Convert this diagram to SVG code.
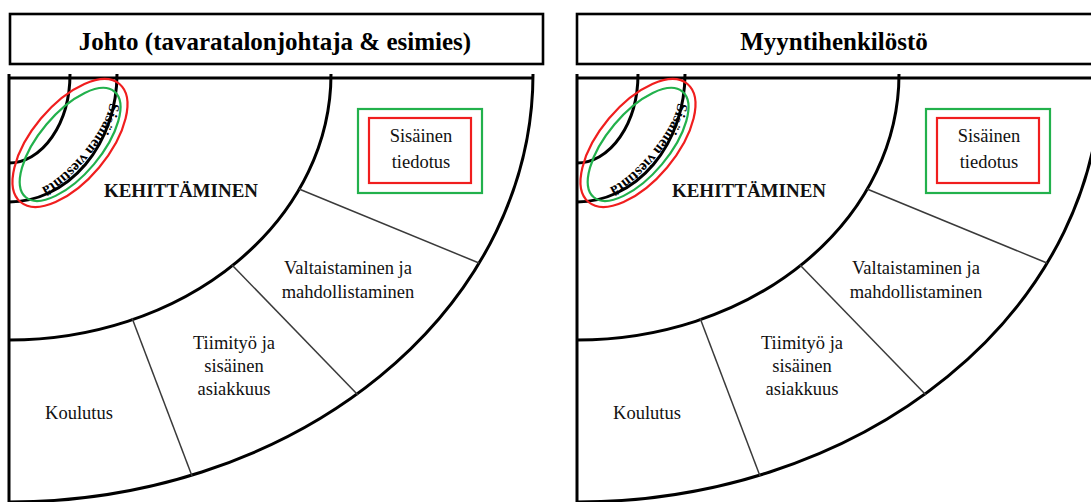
<svg xmlns="http://www.w3.org/2000/svg" xmlns:xlink="http://www.w3.org/1999/xlink" width="1091" height="502" viewBox="0 0 1091 502">
  <style>
    .box { fill: #fff; stroke: #000; stroke-width: 2.6; }
    .frame { fill: none; stroke: #000; stroke-width: 3; }
    .div { stroke: #3a3a3a; stroke-width: 1.5; fill: none; }
    .title { font-family: "Liberation Serif", "Times New Roman", serif; font-weight: bold; font-size: 25px; text-anchor: middle; fill: #000; }
    .head { font-family: "Liberation Serif", "Times New Roman", serif; font-weight: bold; font-size: 19px; text-anchor: middle; fill: #111; }
    .lbl { font-family: "Liberation Serif", "Times New Roman", serif; font-size: 18.5px; text-anchor: middle; fill: #111; }
    .ring { font-family: "Liberation Serif", "Times New Roman", serif; font-weight: bold; font-size: 15px; fill: #000; }
    .red { fill: none; stroke: #f01e1e; stroke-width: 2.2; }
    .green { fill: none; stroke: #22b14c; stroke-width: 2.2; }
  </style>
  <defs>
    <!-- baseline for the curved label, lower-right half of the tilted ellipse -->
    <path id="ringPath" d="M 58,0 A 58 16 0 0 1 -58,0"/>
  </defs>
  <rect width="1091" height="502" fill="#fff"/>

  <!-- ===== Left panel: Johto ===== -->
  <g id="left-panel">
    <g id="title-johto">
      <rect class="box" x="10" y="14" width="533" height="50"/>
      <text class="title" x="275" y="50">Johto (tavaratalonjohtaja &amp; esimies)</text>
    </g>
    <g id="frame-left">
      <path class="frame" d="M 9,74 V 502 M 9,78 H 533"/>
      <path class="frame" d="M 70,74 A 61 89 0 0 1 9,163"/>
      <path class="frame" d="M 117,74 A 108 128 0 0 1 9,202"/>
      <path class="frame" d="M 331,74 A 322 266 0 0 1 9,340"/>
      <path class="frame" d="M 533,74 A 524 428 0 0 1 9,502"/>
    </g>
    <g id="connectors-left">
      <line class="div" x1="299" y1="189" x2="479" y2="263"/>
      <line class="div" x1="232" y1="265" x2="358" y2="395"/>
      <line class="div" x1="132" y1="318" x2="192" y2="476"/>
    </g>
    <g id="viestinta-left" transform="translate(70,143) rotate(-50)">
      <ellipse class="red" cx="0" cy="0" rx="77" ry="38"/>
      <ellipse class="green" cx="-1" cy="1" rx="69" ry="31"/>
      <text class="ring"><textPath xlink:href="#ringPath" href="#ringPath" startOffset="5">Sisäinen viestintä</textPath></text>
    </g>
    <g id="tiedotus-left">
      <rect class="green" x="358" y="109" width="124" height="84"/>
      <rect class="red" x="369" y="118" width="102" height="65"/>
      <text class="lbl" x="421" y="142">Sisäinen</text>
      <text class="lbl" x="421" y="168">tiedotus</text>
    </g>
    <g id="kehittaminen-left">
      <text class="head" x="181" y="197">KEHITTÄMINEN</text>
    </g>
    <g id="valtaistaminen-left">
      <text class="lbl" x="348" y="274">Valtaistaminen ja</text>
      <text class="lbl" x="348" y="298">mahdollistaminen</text>
    </g>
    <g id="tiimityo-left">
      <text class="lbl" x="234" y="349">Tiimityö ja</text>
      <text class="lbl" x="234" y="372">sisäinen</text>
      <text class="lbl" x="234" y="395">asiakkuus</text>
    </g>
    <g id="koulutus-left">
      <text class="lbl" x="79" y="419">Koulutus</text>
    </g>
  </g>

  <!-- ===== Right panel: Myyntihenkilöstö ===== -->
  <g id="right-panel" transform="translate(568,0)">
    <g id="title-myynti">
      <rect class="box" x="9" y="14" width="540" height="50"/>
      <text class="title" x="266" y="50">Myyntihenkilöstö</text>
    </g>
    <g id="frame-right">
      <path class="frame" d="M 9,74 V 502 M 9,78 H 533"/>
      <path class="frame" d="M 70,74 A 61 89 0 0 1 9,163"/>
      <path class="frame" d="M 117,74 A 108 128 0 0 1 9,202"/>
      <path class="frame" d="M 331,74 A 322 266 0 0 1 9,340"/>
      <path class="frame" d="M 533,74 A 524 428 0 0 1 9,502"/>
    </g>
    <g id="connectors-right">
      <line class="div" x1="299" y1="189" x2="479" y2="263"/>
      <line class="div" x1="232" y1="265" x2="358" y2="395"/>
      <line class="div" x1="132" y1="318" x2="192" y2="476"/>
    </g>
    <g id="viestinta-right" transform="translate(70,143) rotate(-50)">
      <ellipse class="red" cx="0" cy="0" rx="77" ry="38"/>
      <ellipse class="green" cx="-1" cy="1" rx="69" ry="31"/>
      <text class="ring"><textPath xlink:href="#ringPath" href="#ringPath" startOffset="5">Sisäinen viestintä</textPath></text>
    </g>
    <g id="tiedotus-right">
      <rect class="green" x="358" y="109" width="124" height="84"/>
      <rect class="red" x="369" y="118" width="102" height="65"/>
      <text class="lbl" x="421" y="142">Sisäinen</text>
      <text class="lbl" x="421" y="168">tiedotus</text>
    </g>
    <g id="kehittaminen-right">
      <text class="head" x="181" y="197">KEHITTÄMINEN</text>
    </g>
    <g id="valtaistaminen-right">
      <text class="lbl" x="348" y="274">Valtaistaminen ja</text>
      <text class="lbl" x="348" y="298">mahdollistaminen</text>
    </g>
    <g id="tiimityo-right">
      <text class="lbl" x="234" y="349">Tiimityö ja</text>
      <text class="lbl" x="234" y="372">sisäinen</text>
      <text class="lbl" x="234" y="395">asiakkuus</text>
    </g>
    <g id="koulutus-right">
      <text class="lbl" x="79" y="419">Koulutus</text>
    </g>
  </g>
</svg>
